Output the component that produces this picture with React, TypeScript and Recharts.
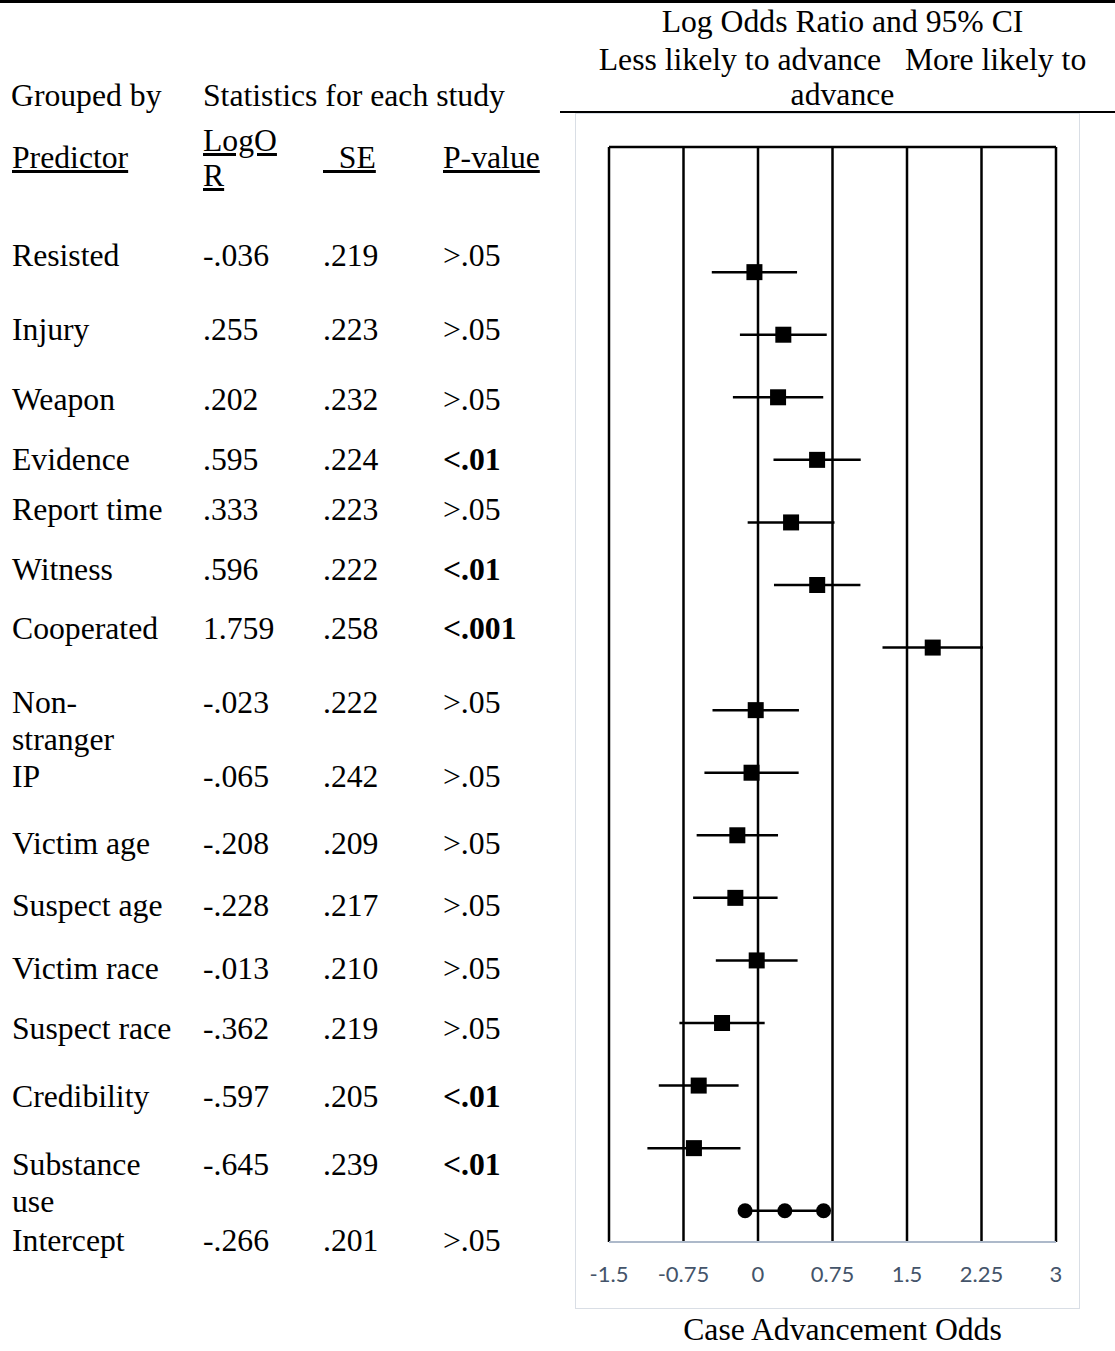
import React from 'react'
import {
  ScatterChart,
  Scatter,
  XAxis,
  YAxis,
  CartesianGrid,
  ErrorBar,
  ReferenceLine,
} from 'recharts'

// table data, top row first
const predictors = [
  'Resisted', 'Injury', 'Weapon', 'Evidence', 'Report time', 'Witness', 'Cooperated',
  'Non-\nstranger', 'IP', 'Victim age', 'Suspect age', 'Victim race', 'Suspect race',
  'Credibility', 'Substance\nuse', 'Intercept',
]
const logOR = [
  -0.036, 0.255, 0.202, 0.595, 0.333, 0.596, 1.759, -0.023, -0.065, -0.208, -0.228, -0.013,
  -0.362, -0.597, -0.645, -0.266,
]
const se = [
  0.219, 0.223, 0.232, 0.224, 0.223, 0.222, 0.258, 0.222, 0.242, 0.209, 0.217, 0.21, 0.219,
  0.205, 0.239, 0.201,
]
const pLabels = [
  '>.05', '>.05', '>.05', '<.01', '>.05', '<.01', '<.001', '>.05', '>.05', '>.05', '>.05',
  '>.05', '>.05', '<.01', '<.01', '>.05',
]
// the last row of the plot shows three round points instead of a square
const interceptMarks = [-0.13, 0.27, 0.66]
const xTicks = [-1.5, -0.75, 0, 0.75, 1.5, 2.25, 3]

// layout: vertical centre of each table row
const tableRowY = [256, 330, 400, 460, 510, 570, 629, 703, 777, 844, 906, 969, 1029, 1097, 1165, 1241]

const SERIF = '"Liberation Serif", "Times New Roman", serif'
const FS = 31.7
const LH = 37

const nRows = predictors.length
const squares = logOR.slice(0, nRows - 1).map((v, i) => ({
  x: v,
  y: nRows - i - 0.5,
  err: 1.96 * se[i],
}))
const circles = interceptMarks.map((v) => ({ x: v, y: 0.5 }))

const fmt = (v: number) => v.toFixed(3).replace(/^(-?)0\./, '$1.')

function Square(props: any) {
  const { cx, cy } = props
  if (cx == null || cy == null) return null
  return <rect x={cx - 8} y={cy - 8} width={16} height={16} fill="#000" />
}

function Dot(props: any) {
  const { cx, cy } = props
  if (cx == null || cy == null) return null
  return <circle cx={cx} cy={cy} r={7.5} fill="#000" />
}

function Txt({ x, cy, children, style }: { x: number; cy: number; children: React.ReactNode; style?: React.CSSProperties }) {
  return (
    <div
      style={{
        position: 'absolute',
        left: x,
        top: cy - 19,
        fontFamily: SERIF,
        fontSize: FS,
        lineHeight: `${LH}px`,
        whiteSpace: 'pre',
        color: '#000',
        ...style,
      }}
    >
      {children}
    </div>
  )
}

const centred: React.CSSProperties = {
  position: 'absolute',
  left: 570,
  width: 545,
  textAlign: 'center',
  fontFamily: SERIF,
  fontSize: FS,
  lineHeight: `${LH}px`,
  whiteSpace: 'pre',
}

export default function App() {
  return (
    <div style={{ position: 'absolute', left: 0, top: 0, width: 1115, height: 1351, background: '#fff', overflow: 'hidden' }}>
      <div style={{ position: 'absolute', left: 0, top: 0, width: 1115, height: 2.5, background: '#000' }} />
      <div style={{ position: 'absolute', left: 560, top: 111, width: 555, height: 2, background: '#000' }} />

      <Txt x={11} cy={96}>Grouped by</Txt>
      <Txt x={203} cy={96}>Statistics for each study</Txt>
      <Txt x={12} cy={158} style={{ textDecoration: 'underline' }}>Predictor</Txt>
      <Txt x={203} cy={142} style={{ textDecoration: 'underline', lineHeight: '35px' }}>{'LogO\nR'}</Txt>
      <Txt x={323} cy={158} style={{ textDecoration: 'underline' }}>{'\u00a0\u00a0SE'}</Txt>
      <Txt x={443} cy={158} style={{ textDecoration: 'underline' }}>P-value</Txt>

      <div style={{ ...centred, top: 22 - 19 }}>Log Odds Ratio and 95% CI</div>
      <div style={{ ...centred, top: 60 - 19 }}>{'Less likely to advance   More likely to'}</div>
      <div style={{ ...centred, top: 95 - 19 }}>advance</div>

      {predictors.map((name, i) => (
        <React.Fragment key={name}>
          <Txt x={12} cy={tableRowY[i]}>{name}</Txt>
          <Txt x={203} cy={tableRowY[i]}>{fmt(logOR[i])}</Txt>
          <Txt x={323} cy={tableRowY[i]}>{fmt(se[i])}</Txt>
          <Txt x={443} cy={tableRowY[i]} style={{ fontWeight: pLabels[i].startsWith('<') ? 'bold' : 'normal' }}>
            {pLabels[i]}
          </Txt>
        </React.Fragment>
      ))}

      <div
        style={{
          position: 'absolute',
          left: 575,
          top: 113,
          width: 505,
          height: 1196,
          border: '1.5px solid #d9dee5',
          boxSizing: 'border-box',
        }}
      >
        <ScatterChart width={502} height={1193} margin={{ top: 33, right: 22, bottom: 35, left: 33 }}>
          <CartesianGrid horizontal={false} stroke="#000" strokeWidth={2.5} />
          <XAxis
            type="number"
            dataKey="x"
            domain={[-1.5, 3]}
            ticks={xTicks}
            allowDataOverflow
            height={30}
            axisLine={{ stroke: '#adb9ca', strokeWidth: 2 }}
            tickLine={false}
            tickMargin={18}
            tick={{ fill: '#44546a', fontSize: 22, fontFamily: 'Lato' }}
          />
          <YAxis type="number" dataKey="y" domain={[0, 17.5]} hide />
          <ReferenceLine y={17.5} stroke="#000" strokeWidth={2.5} />
          <Scatter data={squares} shape={Square} isAnimationActive={false}>
            <ErrorBar dataKey="err" direction="x" width={0} stroke="#000" strokeWidth={2.5} />
          </Scatter>
          <Scatter
            data={circles}
            shape={Dot}
            line={{ stroke: '#000', strokeWidth: 2.5 }}
            lineType="joint"
            isAnimationActive={false}
          />
        </ScatterChart>
      </div>

      <div style={{ ...centred, top: 1330 - 19 }}>Case Advancement Odds</div>
    </div>
  )
}
